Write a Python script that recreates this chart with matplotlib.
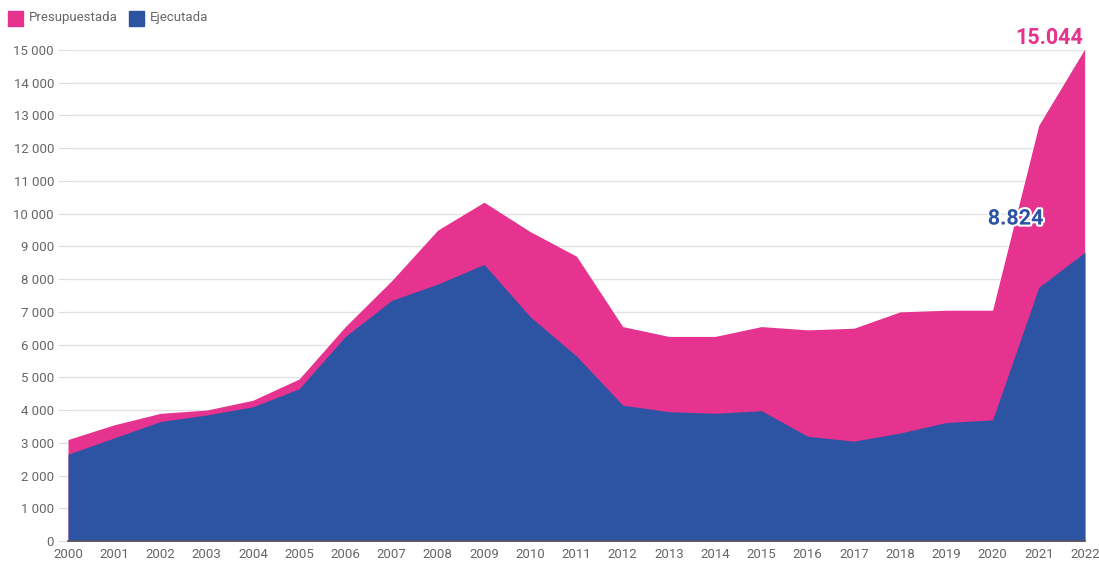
import matplotlib
matplotlib.use("Agg")
import matplotlib.pyplot as plt
import matplotlib.patheffects as pe
from matplotlib.patches import Rectangle

years = list(range(2000, 2023))
presupuestada = [3100, 3550, 3900, 4000, 4300, 4950, 6550, 7950, 9500, 10350, 9450, 8700,
                 6550, 6250, 6250, 6550, 6450, 6500, 7000, 7050, 7050, 12700, 15044]
ejecutada = [2650, 3150, 3650, 3850, 4100, 4650, 6250, 7350, 7850, 8450, 6850, 5650,
             4150, 3950, 3900, 3980, 3200, 3050, 3300, 3620, 3700, 7750, 8824]
series_names = ["Presupuestada", "Ejecutada"]
yticks = list(range(0, 15001, 1000))
ytick_labels = ["0"] + [f"{v//1000} 000" for v in yticks[1:]]

PINK = "#E5338F"
BLUE = "#2D54A3"
GREY = "#666666"

plt.rcParams['font.family'] = ['Roboto', 'DejaVu Sans']

fig = plt.figure(figsize=(10.99, 5.62), dpi=100)
ax = fig.add_axes([68/1099, 1-541/562, (1085-68)/1099, (541-50)/562])

ax.fill_between(years, 0, presupuestada, color=PINK, linewidth=0, zorder=2)
ax.fill_between(years, 0, ejecutada, color=BLUE, linewidth=0, zorder=3)

ax.set_xlim(2000, 2022)
ax.set_ylim(0, 15000)
ax.set_yticks(yticks)
ax.set_yticklabels(ytick_labels)
ax.set_xticks(years)
ax.set_xticklabels([str(y) for y in years])
ax.grid(axis='y', color='#e3e3e3', linewidth=1, zorder=0)
ax.set_axisbelow(True)
for s in ['top', 'left']:
    ax.spines[s].set_visible(False)
ax.spines['right'].set_color('#e6e6e6')
ax.spines['bottom'].set_color('#555555')
ax.spines['bottom'].set_linewidth(1.2)
ax.spines['bottom'].set_zorder(5)
ax.tick_params(axis='y', length=7, color='#dddddd', labelsize=9.5, labelcolor=GREY, pad=3)
ax.tick_params(axis='x', length=0, labelsize=9.5, labelcolor=GREY, pad=5)
ax.patch.set_alpha(0)
for lbl in ax.get_xticklabels():
    lbl.set_clip_on(False)

ax.annotate("15.044", xy=(2022, presupuestada[-1]), xytext=(-1, 0), textcoords='offset points',
            ha='right', va='bottom', color=PINK, fontsize=15.5, fontweight='bold', annotation_clip=False)
ax.annotate("8.824", xy=(2020.5, 9850), ha='center', va='center', color=BLUE, fontsize=15.5,
            fontweight='bold', zorder=6,
            path_effects=[pe.withStroke(linewidth=3, foreground='white')])

# legend
fig.patches.append(Rectangle((8/1099, 1-26/562), 15/1099, 15/562, transform=fig.transFigure,
                             color=PINK, figure=fig))
fig.text(29/1099, 1-18/562, series_names[0], color=GREY, fontsize=9.5, va='center', ha='left')
fig.patches.append(Rectangle((129/1099, 1-26/562), 15/1099, 15/562, transform=fig.transFigure,
                             color=BLUE, figure=fig))
fig.text(150/1099, 1-18/562, series_names[1], color=GREY, fontsize=9.5, va='center', ha='left')

fig.savefig("out.png", dpi=100)
